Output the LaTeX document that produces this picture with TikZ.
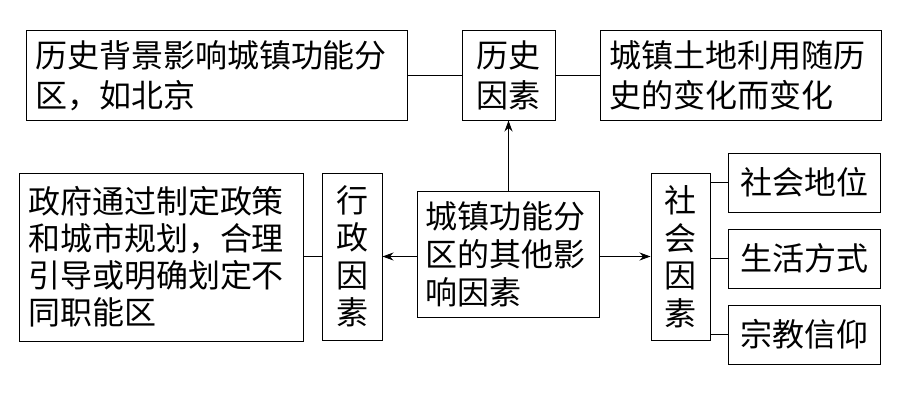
\documentclass[tikz,border=0pt]{standalone}
\usepackage{fontspec}
\newfontfamily\cjk{Noto Sans CJK SC}
\usetikzlibrary{arrows.meta}
\begin{document}
\begin{tikzpicture}[x=1pt,y=-1pt,
  box/.style={draw,line width=1pt,rectangle,inner sep=0pt,font=\cjk\fontsize{32}{40}\selectfont},
  conn/.style={line width=1pt},
  arr/.style={line width=1pt,-{Stealth[length=11pt,width=8pt]}}]
\useasboundingbox (0,0) rectangle (905,396);
\node[box,minimum width=381,minimum height=89,text width=363,align=left] (hb) at (216.5,75.5) {历史背景影响城镇功能分\\区，如北京};
\node[box,minimum width=93,minimum height=89,align=center] (hist) at (508.5,75.5) {历史\\因素};
\node[box,minimum width=281,minimum height=89,text width=263,align=left] (hc) at (740.5,75.5) {城镇土地利用随历\\史的变化而变化};
\node[box,minimum width=182,minimum height=126,text width=166,align=left,font=\cjk\fontsize{32}{38}\selectfont] (ctr) at (508,254) {城镇功能分\\区的其他影\\响因素};
\node[box,minimum width=60,minimum height=167,align=center,font=\cjk\fontsize{32}{37.5}\selectfont] (adm) at (352,256.5) {行\\政\\因\\素};
\node[box,minimum width=284,minimum height=168,text width=266,align=left,font=\cjk\fontsize{32}{37}\selectfont] (gov) at (161,257) {政府通过制定政策\\和城市规划，合理\\引导或明确划定不\\同职能区};
\node[box,minimum width=59,minimum height=167,align=center,font=\cjk\fontsize{32}{37.5}\selectfont] (soc) at (680.5,256.5) {社\\会\\因\\素};
\node[box,minimum width=152,minimum height=59,align=center] (s1) at (804,182.5) {社会地位};
\node[box,minimum width=152,minimum height=59,align=center] (s2) at (804,258.5) {生活方式};
\node[box,minimum width=152,minimum height=59,align=center] (s3) at (804,334.5) {宗教信仰};
\draw[conn] (hb.east) -- (hist.west);
\draw[conn] (hist.east) -- (hc.west);
\draw[arr] (ctr.north -| hist.south) -- (hist.south);
\draw[arr] (ctr.west |- adm.east) -- (adm.east);
\draw[conn] (adm.west) -- (gov.east |- adm.west);
\draw[arr] (ctr.east |- soc.west) -- (soc.west);
\draw[conn] (soc.east |- s1.west) -- (s1.west);
\draw[conn] (soc.east |- s2.west) -- (s2.west);
\draw[conn] (soc.east |- s3.west) -- (s3.west);
\end{tikzpicture}
\end{document}
